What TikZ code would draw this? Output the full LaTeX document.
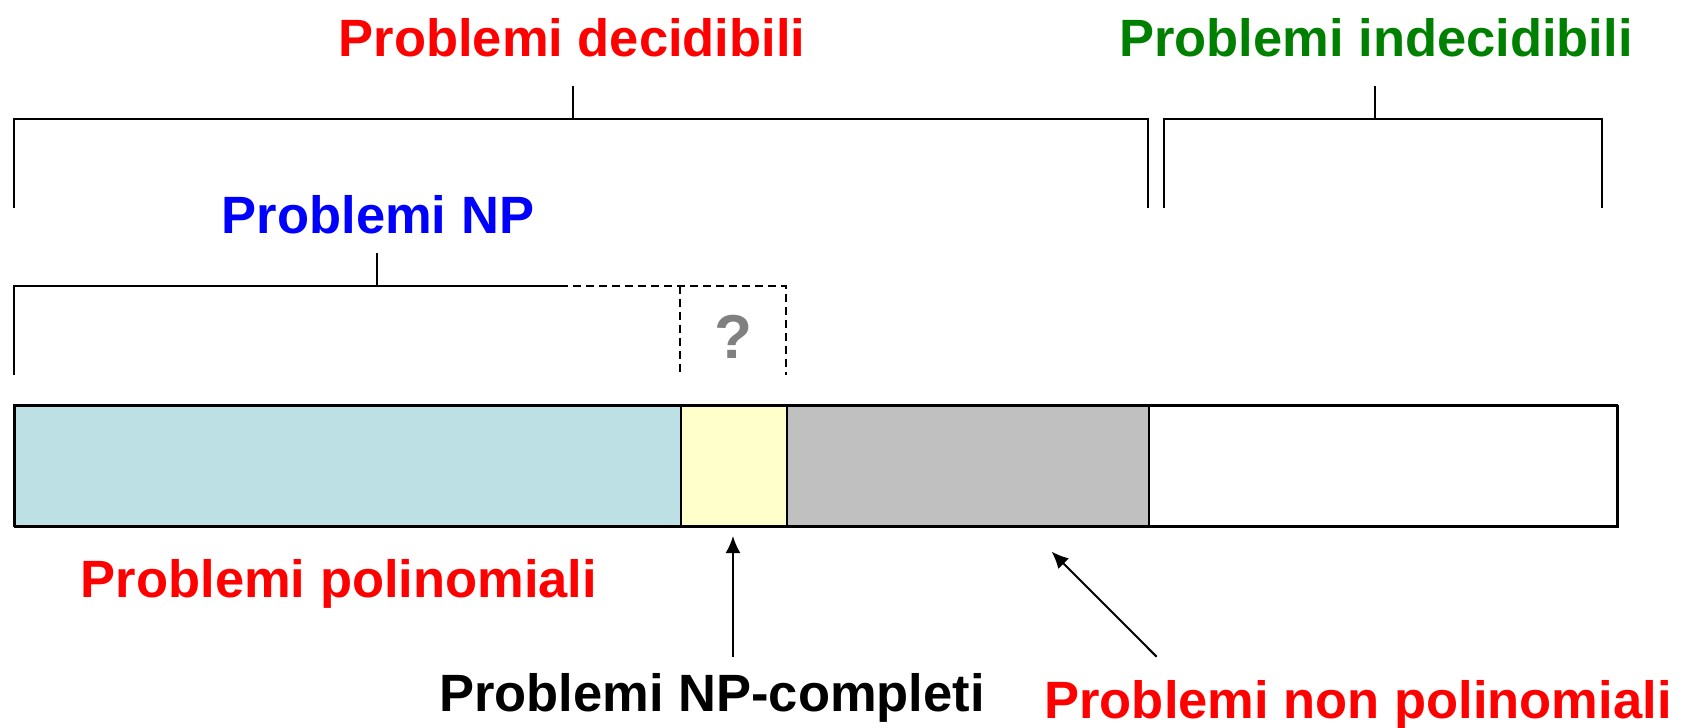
\documentclass[tikz,border=0pt]{standalone}
\usepackage{fontspec}
\setmainfont{Liberation Sans}
\usetikzlibrary{arrows.meta}
\definecolor{polyfill}{RGB}{188,224,227}
\definecolor{npcfill}{RGB}{255,255,204}
\definecolor{nonpolyfill}{RGB}{192,192,192}
\definecolor{undecgreen}{RGB}{0,128,0}
\begin{document}
\begin{tikzpicture}[x=1pt,y=-1pt,
  label/.style={anchor=base,inner sep=0pt,font=\fontsize{52.5}{60}\selectfont\bfseries},
  brace/.style={line width=2pt},
  tick/.style={line width=1.5pt},
  dashline/.style={line width=1.8pt,dash pattern=on 8pt off 5pt},
  seg/.style={draw=black,line width=1.5pt,anchor=north west,inner sep=0pt,minimum height=121pt},
  pointer/.style={line width=2pt,-{Latex[length=17pt,width=15pt]}}]
  \useasboundingbox (0,0) rectangle (1690,728);

  % headings
  \node[label,red] (dec) at (572,56) {Problemi decidibili};
  \node[label,undecgreen] (undec) at (1376,56) {Problemi indecidibili};
  \node[label,blue] (np) at (378,233) {Problemi NP};
  \node[label,gray,font=\fontsize{62}{70}\selectfont\bfseries] (q) at (733,358) {?};

  % brackets of decidable / undecidable problems
  \draw[brace] (14,208) -- (14,118.6) -- (1148,118.6) -- (1148,208);
  \draw[tick] (573,86) -- (573,118.6);
  \draw[brace] (1164,208) -- (1164,118.6) -- (1601.6,118.6) -- (1601.6,208);
  \draw[tick] (1375,86) -- (1375,118.6);

  % bracket of NP problems, open towards the unknown boundary
  \draw[brace] (14,375) -- (14,285.6) -- (560,285.6);
  \draw[tick] (377,253) -- (377,285.6);
  \draw[dashline] (560,285.6) -- (786,285.6) -- (786,375);
  \draw[dashline] (680,285.6) -- (680,375);

  % the bar of problem classes
  \node[seg,fill=polyfill,minimum width=666pt] (poly) at (14,405) {};
  \node[seg,fill=npcfill,minimum width=106pt] (npc) at (680,405) {};
  \node[seg,fill=nonpolyfill,minimum width=362pt] (nonpoly) at (786,405) {};
  \node[seg,fill=white,minimum width=469pt] (undecseg) at (1148,405) {};
  \draw[line width=2.5pt] (14,405) rectangle (1617,526);

  % lower labels and pointers
  \node[label,red] (polylab) at (339,597) {Problemi polinomiali};
  \node[label,black] (npclab) at (712,711) {Problemi NP-completi};
  \node[label,red] (nonpolylab) at (1358,718) {Problemi non polinomiali};

  \coordinate (npctail) at (733,657);
  \coordinate (npctip) at (733,536);
  \coordinate (nptail) at (1156.6,656.7);
  \coordinate (nptip) at (1051.5,551.5);
  \draw[pointer] (npctail) -- (npctip);
  \draw[pointer] (nptail) -- (nptip);
\end{tikzpicture}
\end{document}
